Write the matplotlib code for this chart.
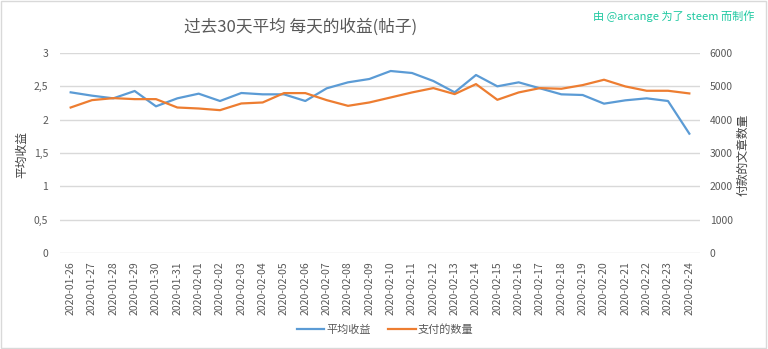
import matplotlib.pyplot as plt
import matplotlib.patches as patches
import numpy as np

plt.rcParams['font.family'] = ['Noto Sans CJK SC', 'DejaVu Sans']

dates = ["2020-01-26", "2020-01-27", "2020-01-28", "2020-01-29", "2020-01-30",
         "2020-01-31", "2020-02-01", "2020-02-02", "2020-02-03", "2020-02-04",
         "2020-02-05", "2020-02-06", "2020-02-07", "2020-02-08", "2020-02-09",
         "2020-02-10", "2020-02-11", "2020-02-12", "2020-02-13", "2020-02-14",
         "2020-02-15", "2020-02-16", "2020-02-17", "2020-02-18", "2020-02-19",
         "2020-02-20", "2020-02-21", "2020-02-22", "2020-02-23", "2020-02-24"]
avg_reward = [2.41, 2.36, 2.32, 2.43, 2.20, 2.32, 2.39, 2.28, 2.40, 2.38,
              2.38, 2.28, 2.47, 2.56, 2.61, 2.73, 2.70, 2.58, 2.41, 2.67,
              2.50, 2.56, 2.47, 2.38, 2.37, 2.24, 2.29, 2.32, 2.28, 1.79]
paid_count = [4365, 4586, 4646, 4616, 4616, 4365, 4335, 4285, 4486, 4516,
              4797, 4797, 4586, 4415, 4516, 4666, 4817, 4947, 4767, 5067,
              4596, 4817, 4947, 4927, 5037, 5198, 4997, 4867, 4867, 4787]

blue = '#5B9BD5'
orange = '#ED7D31'
grey = '#595959'

fig = plt.figure(figsize=(7.68, 3.49), dpi=100)
fig.patch.set_facecolor('white')
fig.patches.append(patches.Rectangle((0.001, 0.002), 0.997, 0.995, transform=fig.transFigure,
                                     fill=False, edgecolor='#D9D9D9', linewidth=1))

W, H = 768, 349
ax = fig.add_axes([60 / W, 1 - 253 / H, 640 / W, 200 / H])
ax2 = ax.twinx()

x = np.arange(len(dates))
l1, = ax.plot(x, avg_reward, color=blue, lw=1.6, label='平均收益')
l2, = ax2.plot(x, paid_count, color=orange, lw=1.6, label='支付的数量')

ax.set_xlim(-0.5, len(dates) - 0.5)
ax.set_ylim(0, 3)
ax.set_yticks([0, 0.5, 1, 1.5, 2, 2.5, 3])
ax.set_yticklabels(['0', '0,5', '1', '1,5', '2', '2,5', '3'])
ax2.set_ylim(0, 6000)
ax2.set_yticks(range(0, 7000, 1000))

ax.set_xticks(x)
ax.set_xticklabels(dates, rotation=90, fontsize=7, color=grey)
ax.grid(axis='y', color='#D9D9D9', lw=1)
ax.set_axisbelow(True)

for a in (ax, ax2):
    for s in a.spines.values():
        s.set_visible(False)
    a.tick_params(length=0, labelsize=7.5, colors=grey)
ax.tick_params(axis='y', pad=8.5)
ax2.tick_params(axis='y', pad=7)
ax.tick_params(axis='x', pad=6)

fig.text(22 / W, 1 - 155 / H, '平均收益', rotation=90, ha='center', va='center',
         fontsize=8.5, color='#404040')
fig.text(743 / W, 1 - 155 / H, '付款的文章数量', rotation=90, ha='center', va='center',
         fontsize=8.5, color='#404040')

fig.text(301 / W, 1 - 27 / H, '过去30天平均 每天的收益(帖子)', ha='center', va='center',
         fontsize=12, color=grey)
fig.text(754 / W, 1 - 16 / H, '由 @arcange 为了 steem 而制作', ha='right', va='center',
         fontsize=8, color='#1DC8A0')

fig.legend(handles=[l1, l2], loc='center', bbox_to_anchor=(385 / W, 1 - 330 / H), ncol=2,
           frameon=False, fontsize=8, handlelength=2.5, handletextpad=0.2, columnspacing=1.5,
           labelcolor=grey)

fig.savefig('out.png', dpi=100, facecolor='white')
